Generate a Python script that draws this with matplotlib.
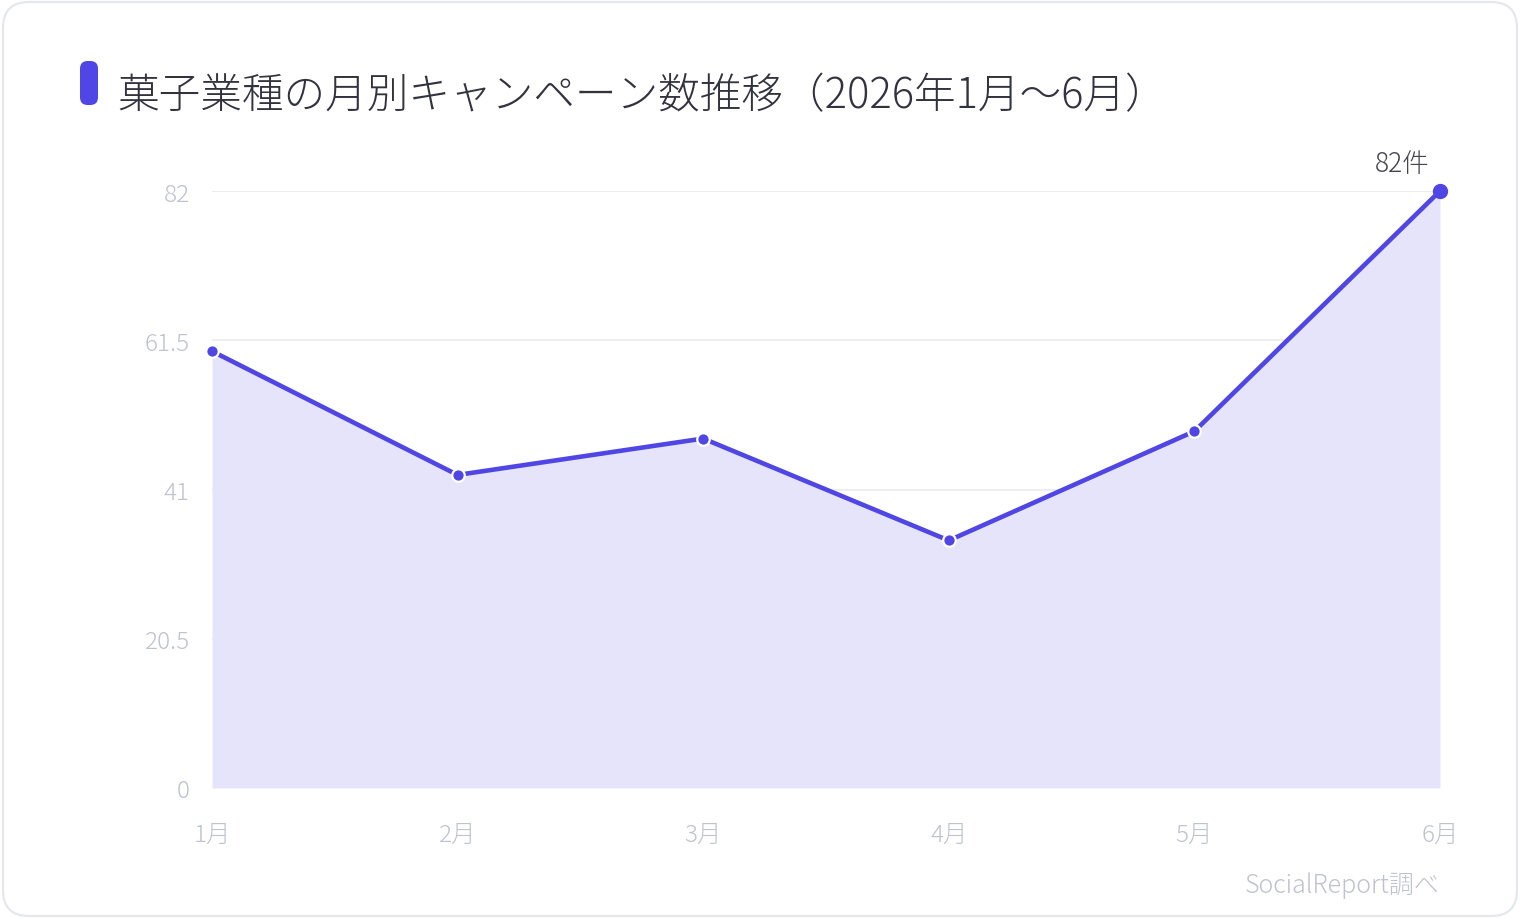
import matplotlib
matplotlib.use("Agg")
import matplotlib.pyplot as plt
from matplotlib.patches import FancyBboxPatch

plt.rcParams['font.family'] = ['Noto Sans CJK JP', 'DejaVu Sans']
plt.rcParams['font.weight'] = 'light'

months = ["1月", "2月", "3月", "4月", "5月", "6月"]
counts = [60, 43, 48, 34, 49, 82]
yticks = [0, 20.5, 41, 61.5, 82]
ytick_labels = ["0", "20.5", "41", "61.5", "82"]
title = "菓子業種の月別キャンペーン数推移（2026年1月〜6月）"
source = "SocialReport調べ"
peak_label = "82件"

ACCENT = "#4f46e5"
FILL = "#e6e4fa"
TICK = "#bfc2cf"
GRID = "#ebebf0"

W, H = 1520, 920
fig = plt.figure(figsize=(W / 100, H / 100), dpi=100)
fig.patch.set_facecolor("white")

# card border
card = FancyBboxPatch((3 / W, 3 / H), (W - 6) / W, (H - 6) / H,
                      boxstyle="round,pad=0,rounding_size=0.017",
                      transform=fig.transFigure, facecolor="none",
                      edgecolor="#e5e7eb", linewidth=1.6, zorder=-1,
                      mutation_aspect=W / H)
fig.patches.append(card)

# title accent bar
bar = FancyBboxPatch((80 / W, (H - 106) / H), 18 / W, 44 / H,
                     boxstyle="round,pad=0,rounding_size=0.005",
                     transform=fig.transFigure, facecolor=ACCENT,
                     edgecolor="none", mutation_aspect=W / H)
fig.patches.append(bar)
fig.text(117 / W, (H - 96) / H, title, fontsize=30, color="#333340",
         ha="left", va="center", fontweight="light")

ax = fig.add_axes([212 / W, 1 - 789 / H, (1440 - 212) / W, (789 - 192) / H])
x = list(range(len(months)))
ax.fill_between(x, counts, 0, color=FILL, linewidth=0, zorder=1)
ax.plot(x, counts, color=ACCENT, linewidth=3.3, zorder=3, solid_capstyle="round")
ax.plot(x[:-1], counts[:-1], linestyle="none", marker="o", markersize=9,
        markerfacecolor=ACCENT, markeredgecolor="white", markeredgewidth=1.6,
        zorder=4, clip_on=False)
ax.plot(x[-1:], counts[-1:], linestyle="none", marker="o", markersize=10,
        markerfacecolor=ACCENT, markeredgecolor=ACCENT, markeredgewidth=1,
        zorder=5, clip_on=False)
ax.annotate(peak_label, (x[-1], counts[-1]), xytext=(-27, 20),
            textcoords="offset points", ha="center", va="center",
            fontsize=19, color="#444450", fontweight="light")

ax.set_xlim(0, len(months) - 1)
ax.set_ylim(0, 82)
ax.set_yticks(yticks)
ax.set_yticklabels(ytick_labels)
ax.set_xticks(x)
ax.set_xticklabels(months)
ax.tick_params(axis="both", length=0, labelsize=17.5, labelcolor=TICK)
ax.tick_params(axis="y", pad=16)
ax.tick_params(axis="x", pad=24)
for lab in ax.get_xticklabels() + ax.get_yticklabels():
    lab.set_fontweight("light")
ax.grid(axis="y", color=GRID, linewidth=1.2, zorder=0)
ax.grid(axis="x", visible=False)
ax.set_axisbelow(True)
for s in ax.spines.values():
    s.set_visible(False)
ax.set_facecolor("none")

fig.text(1440 / W, 1 - 886 / H, source, fontsize=18, color=TICK,
         ha="right", va="center", fontweight="light")

fig.savefig("out.png", dpi=100, facecolor="white")
